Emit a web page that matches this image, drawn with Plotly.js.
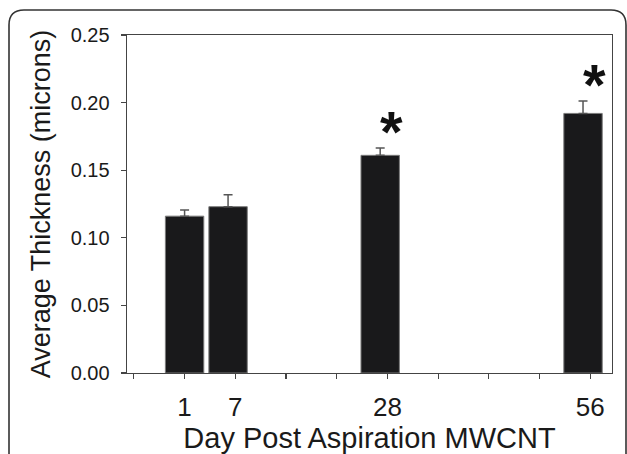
<!DOCTYPE html>
<html>
<head>
<meta charset="utf-8">
<script src="https://cdn.plot.ly/plotly-3.0.1.min.js"></script>
<style>html,body{margin:0;padding:0;background:#fff;}#chart{width:627px;height:454px;}</style>
</head>
<body>
<div id="chart"></div>
<script>
// ---- data ----
const days = [1, 7, 28, 56];                       // day post aspiration
const thickness = [0.116, 0.123, 0.161, 0.192];    // average thickness (microns)
const sem = [0.0045, 0.0088, 0.0054, 0.0091];      // upper error
const significant = [false, false, true, true];
const tickPositions = [-7, 0, 7, 14, 21, 28, 35, 42, 49, 56];
const tickLabels = ['', '1', '7', '', '', '28', '', '', '', '56'];
const yTicks = [0, 0.05, 0.10, 0.15, 0.20, 0.25];
const yTickLabels = ['0.00', '0.05', '0.10', '0.15', '0.20', '0.25'];

// ---- layout constants ----
const W = 627, H = 454;
const M = {l: 127, r: 15, t: 35, b: 81};
const pw = W - M.l - M.r, ph = H - M.t - M.b;
const barPos = days.map(d => d - 1);

const trace = {
  type: 'bar',
  x: barPos,
  y: thickness,
  width: 5.3,
  marker: {color: '#19191b', line: {color: '#7a7a7a', width: 1}},
  error_y: {type: 'data', symmetric: false, array: sem, arrayminus: sem.map(() => 0),
            color: '#555', thickness: 1.5, width: 4.5},
  hoverinfo: 'skip'
};

const annotations = [];
days.forEach((d, i) => {
  if (significant[i]) {
    annotations.push({
      x: barPos[i] + 1.6, y: thickness[i] + sem[i],
      xref: 'x', yref: 'y', text: '*', showarrow: false,
      yanchor: 'bottom', xanchor: 'center', yshift: -18,
      font: {family: 'Liberation Sans, Arial, sans-serif', size: 58, color: '#111', weight: 'bold'}
    });
  }
});

// outer rounded frame (pixel -> paper)
const px = x => (x - M.l) / pw;
const py = y => (H - M.b - y) / ph;
const R = 15, L0 = 9, T0 = 10, R0 = 626, B0 = 470;
const framePath = `M ${px(L0)} ${py(B0)} L ${px(L0)} ${py(T0 + R)} Q ${px(L0)} ${py(T0)} ${px(L0 + R)} ${py(T0)} ` +
  `L ${px(R0 - R)} ${py(T0)} Q ${px(R0)} ${py(T0)} ${px(R0)} ${py(T0 + R)} L ${px(R0)} ${py(B0)}`;

const layout = {
  width: W, height: H,
  margin: M,
  paper_bgcolor: '#fff', plot_bgcolor: '#fff',
  showlegend: false,
  font: {family: 'Liberation Sans, Arial, sans-serif', color: '#1a1a1a'},
  xaxis: {
    range: [-7.95, 59.0],
    tickmode: 'array', tickvals: tickPositions, ticktext: tickLabels,
    ticks: 'outside', ticklen: 5, tickwidth: 1.2, tickcolor: '#444',
    showline: true, linecolor: '#444', linewidth: 1.4, mirror: true,
    showgrid: false, zeroline: false,
    tickfont: {size: 26, color: '#1a1a1a'},
    ticklabelstandoff: 5,
    title: {text: 'Day Post Aspiration MWCNT', font: {size: 29, color: '#1a1a1a'}, standoff: 4}
  },
  yaxis: {
    range: [0, 0.25],
    tickmode: 'array', tickvals: yTicks, ticktext: yTickLabels,
    ticks: 'outside', ticklen: 5, tickwidth: 1.2, tickcolor: '#444',
    showline: true, linecolor: '#444', linewidth: 1.4, mirror: true,
    showgrid: false, zeroline: false,
    tickfont: {size: 20, color: '#1a1a1a'},
    ticklabelstandoff: 7,
    title: {text: 'Average Thickness (microns)', font: {size: 27, color: '#1a1a1a'}, standoff: 12}
  },
  annotations: annotations,
  shapes: [{type: 'path', xref: 'paper', yref: 'paper', path: framePath,
            line: {color: '#333', width: 1.6}, layer: 'above'}]
};

Plotly.newPlot('chart', [trace], layout, {displayModeBar: false, staticPlot: true});
</script>
</body>
</html>
